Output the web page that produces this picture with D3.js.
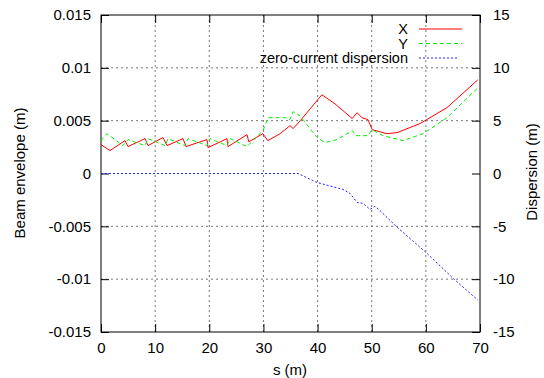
<!DOCTYPE html>
<html>
<head>
<meta charset="utf-8">
<script src="https://cdn.jsdelivr.net/npm/d3@7"></script>
<style>
  body { margin: 0; background: #fff; }
  svg { font-family: 'Liberation Sans', Arial, sans-serif; }
</style>
</head>
<body>
<div id="chart"></div>
<script>
// data: [s (m), value]
let envX = [
  [0, 0.00274], [1.66, 0.00217], [4.43, 0.00311], [4.99, 0.00255], [8.13, 0.0033],
  [8.68, 0.00264], [11.45, 0.0034], [12.19, 0.00264], [15.15, 0.0033], [15.7, 0.00255],
  [19.58, 0.00321], [19.76, 0.00245], [23.27, 0.0033], [23.46, 0.00255], [26.97, 0.00368],
  [27.3, 0.003], [29.9, 0.00377], [30.8, 0.00311], [33.1, 0.00377], [34.9, 0.00453],
  [35.5, 0.00425], [36.8, 0.005], [40.8, 0.00745], [43.2, 0.0066], [46.4, 0.0052],
  [47.3, 0.00575], [48.2, 0.00528], [49.3, 0.0051], [50.1, 0.00415], [52.8, 0.00377],
  [54.7, 0.00387], [58.9, 0.00472], [63.9, 0.00623], [69.6, 0.00887]
]

let envY = [
  [0, 0.00311], [1.1, 0.00377], [4.06, 0.00264], [4.99, 0.00321], [8.13, 0.00264],
  [8.68, 0.0033], [11.82, 0.00264], [12.38, 0.0033], [15.5, 0.00264], [16.07, 0.0033],
  [19.58, 0.00264], [20.13, 0.0033], [23.27, 0.00264], [23.83, 0.0033], [26.97, 0.00255],
  [28.07, 0.00311], [29.92, 0.00406], [30.85, 0.00528], [34.0, 0.00528], [34.9, 0.0051],
  [35.46, 0.00585], [36.76, 0.00547], [39.9, 0.0034], [41.37, 0.00292], [43.6, 0.00321],
  [46.4, 0.00406], [47.1, 0.00358], [49.3, 0.00358], [50.06, 0.00415], [52.1, 0.00358],
  [55.8, 0.00311], [59.5, 0.00377], [63.9, 0.00528], [69.6, 0.00811]
]

let dispersion = [
  [0, 0], [36.4, 0], [39.9, -0.85], [44.7, -1.51], [46.0, -1.89], [47.3, -2.74],
  [48.4, -2.83], [49.7, -3.4], [50.6, -3.11], [51.5, -3.49], [54.7, -5.09],
  [60.2, -7.55], [65.0, -9.91], [69.6, -11.98]
]

let sTicks = [0, 10, 20, 30, 40, 50, 60, 70]
let envTicks = [-0.015, -0.01, -0.005, 0, 0.005, 0.01, 0.015]
let dispTicks = [-15, -10, -5, 0, 5, 10, 15]
let legendLabels = ['X', 'Y', 'zero-current dispersion']

let width = 544
let height = 378
let margin = { top: 15, left: 101, right: 64, bottom: 46 }

let svg = d3
  .select('#chart')
  .append('svg')
  .attr('width', width)
  .attr('height', height)

let xPositionScale = d3.scaleLinear().domain([0, 70]).range([margin.left, width - margin.right])
let yPositionScale = d3.scaleLinear().domain([-0.015, 0.015]).range([height - margin.bottom, margin.top])
let dispScale = d3.scaleLinear().domain([-15, 15]).range([height - margin.bottom, margin.top])

let fmt = d => String(+d.toFixed(3))

// grid
let grid = svg.append('g').attr('class', 'grid')
grid
  .selectAll('.vgrid')
  .data(sTicks.slice(1, -1))
  .enter()
  .append('line')
  .attr('x1', d => xPositionScale(d))
  .attr('x2', d => xPositionScale(d))
  .attr('y1', margin.top)
  .attr('y2', height - margin.bottom)
  .attr('stroke', '#777')
  .attr('stroke-dasharray', '2,3')
grid
  .selectAll('.hgrid')
  .data(envTicks.slice(1, -1).filter(d => d !== 0))
  .enter()
  .append('line')
  .attr('x1', margin.left)
  .attr('x2', width - margin.right)
  .attr('y1', d => yPositionScale(d))
  .attr('y2', d => yPositionScale(d))
  .attr('stroke', '#777')
  .attr('stroke-dasharray', '2,3')

// axes, ticks pointing inward like gnuplot
let styleAxis = g => {
  g.select('.domain').remove()
  g.selectAll('.tick line').attr('stroke', '#000')
  g.selectAll('.tick text').attr('font-size', 15).attr('fill', '#000')
}

svg
  .append('g')
  .attr('transform', `translate(${margin.left},0)`)
  .call(d3.axisLeft(yPositionScale).tickValues(envTicks).tickSize(-8).tickPadding(10).tickFormat(fmt))
  .call(styleAxis)

svg
  .append('g')
  .attr('transform', `translate(${width - margin.right},0)`)
  .call(d3.axisRight(dispScale).tickValues(dispTicks).tickSize(-8).tickPadding(13).tickFormat(fmt))
  .call(styleAxis)

svg
  .append('g')
  .attr('transform', `translate(0,${height - margin.bottom})`)
  .call(d3.axisBottom(xPositionScale).tickValues(sTicks).tickSize(-8).tickPadding(10).tickFormat(fmt))
  .call(styleAxis)

svg
  .append('g')
  .attr('transform', `translate(0,${margin.top})`)
  .call(d3.axisTop(xPositionScale).tickValues(sTicks).tickSize(-8).tickFormat(''))
  .call(styleAxis)

svg
  .append('rect')
  .attr('x', margin.left)
  .attr('y', margin.top)
  .attr('width', width - margin.left - margin.right)
  .attr('height', height - margin.top - margin.bottom)
  .attr('fill', 'none')
  .attr('stroke', '#000')

// lines
let lineEnv = d3
  .line()
  .x(d => xPositionScale(d[0]))
  .y(d => yPositionScale(d[1]))

let lineDisp = d3
  .line()
  .x(d => xPositionScale(d[0]))
  .y(d => dispScale(d[1]))

let series = [
  { data: envX, line: lineEnv, color: '#ff0000', dash: null },
  { data: envY, line: lineEnv, color: '#00ee00', dash: '4,3' },
  { data: dispersion, line: lineDisp, color: '#2222ff', dash: '2,2' }
]

series.forEach(s => {
  svg
    .append('path')
    .datum(s.data)
    .attr('d', s.line)
    .attr('fill', 'none')
    .attr('stroke', s.color)
    .attr('stroke-width', 1)
    .attr('stroke-dasharray', s.dash)
})

// legend
let legend = svg
  .selectAll('.legend')
  .data(legendLabels)
  .enter()
  .append('g')
  .attr('class', 'legend')
  .attr('transform', (d, i) => `translate(0,${29 + i * 14.5})`)

legend
  .append('text')
  .text(d => d)
  .attr('x', 408)
  .attr('dy', '0.35em')
  .attr('text-anchor', 'end')
  .attr('font-size', 14.5)

legend
  .append('line')
  .attr('x1', 419)
  .attr('x2', (d, i) => (i === 2 ? 458 : 462))
  .attr('stroke', (d, i) => series[i].color)
  .attr('stroke-dasharray', (d, i) => series[i].dash)

// axis titles
svg
  .append('text')
  .text('Beam envelope (m)')
  .attr('transform', 'translate(20,173) rotate(-90)')
  .attr('text-anchor', 'middle')
  .attr('dy', '0.35em')
  .attr('font-size', 15)

svg
  .append('text')
  .text('Dispersion (m)')
  .attr('transform', 'translate(532,172) rotate(-90)')
  .attr('text-anchor', 'middle')
  .attr('dy', '0.35em')
  .attr('font-size', 15)

svg
  .append('text')
  .text('s (m)')
  .attr('x', 290)
  .attr('y', 370)
  .attr('dy', '0.35em')
  .attr('text-anchor', 'middle')
  .attr('font-size', 15)
</script>
</body>
</html>
